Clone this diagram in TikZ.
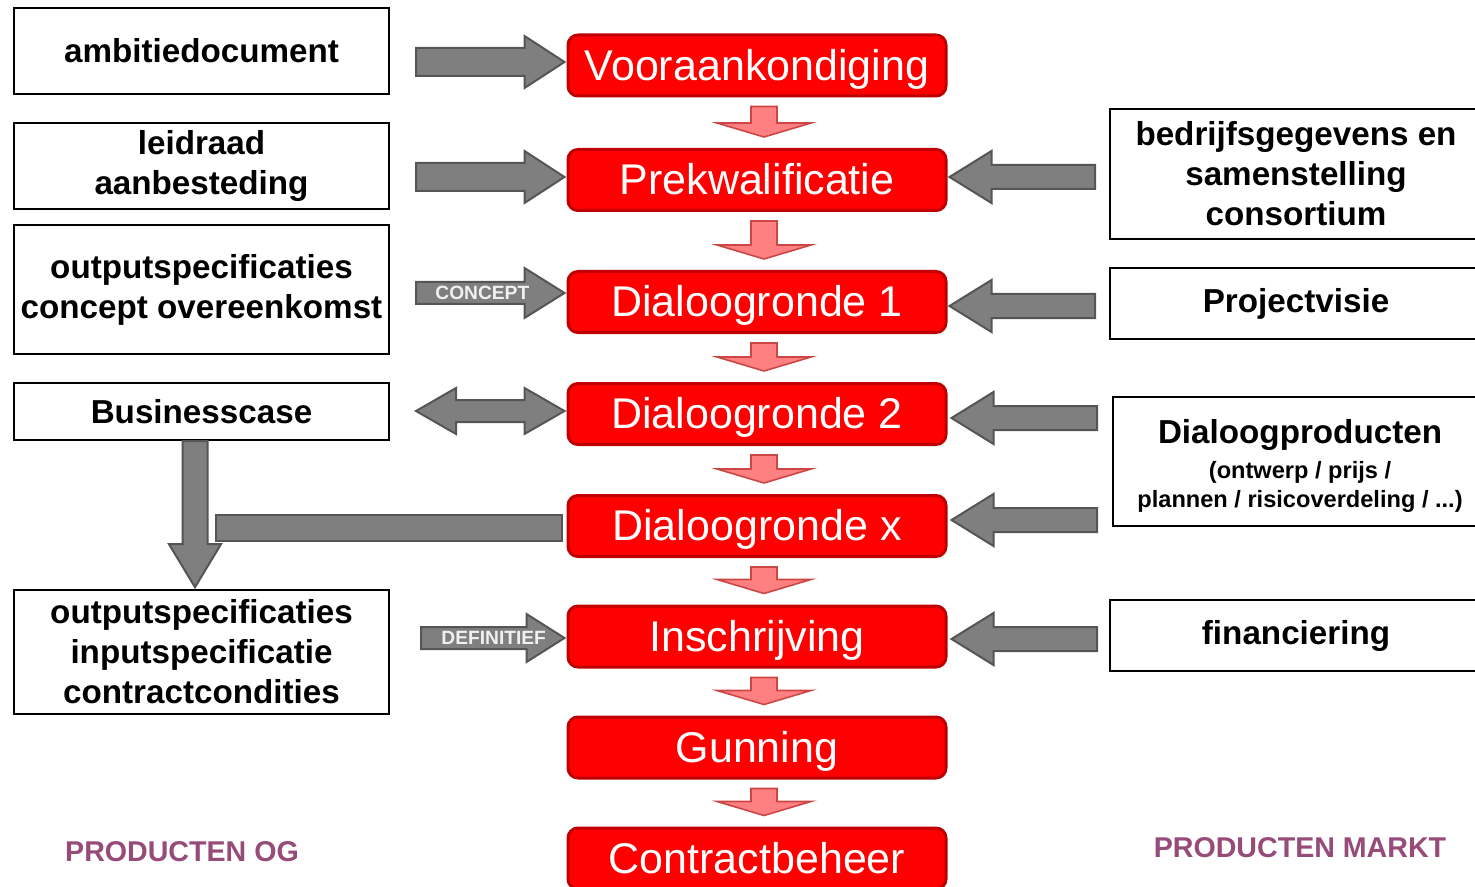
\documentclass[tikz,border=0pt]{standalone}
\usepackage{fontspec}
\setmainfont{Liberation Sans}
\usetikzlibrary{calc}
\definecolor{boxred}{RGB}{255,0,0}
\definecolor{boxredline}{RGB}{192,0,0}
\definecolor{arrowpink}{RGB}{255,128,128}
\definecolor{arrowpinkline}{RGB}{205,70,70}
\definecolor{grayfill}{RGB}{127,127,127}
\definecolor{grayline}{RGB}{85,85,85}
\definecolor{prodpurple}{RGB}{150,75,120}
% #1 style, #2 tail, #3 target, #4 shaft half, #5 head half, #6 head length
\newcommand{\rblock}[6]{%
  \path[#1] let \p1=(#2), \p2=(#3) in
    (\x1,{\y1+#4}) -- ({\x2-#6},{\y1+#4}) -- ({\x2-#6},{\y1+#5}) -- (\x2,\y1)
    -- ({\x2-#6},{\y1-#5}) -- ({\x2-#6},{\y1-#4}) -- (\x1,{\y1-#4}) -- cycle;}
\newcommand{\lblock}[6]{%
  \path[#1] let \p1=(#2), \p2=(#3) in
    (\x1,{\y1+#4}) -- ({\x2+#6},{\y1+#4}) -- ({\x2+#6},{\y1+#5}) -- (\x2,\y1)
    -- ({\x2+#6},{\y1-#5}) -- ({\x2+#6},{\y1-#4}) -- (\x1,{\y1-#4}) -- cycle;}
\newcommand{\lrblock}[6]{%
  \path[#1] let \p1=(#2), \p2=(#3) in
    (\x1,\y1) -- ({\x1+#6},{\y1+#5}) -- ({\x1+#6},{\y1+#4}) -- ({\x2-#6},{\y1+#4})
    -- ({\x2-#6},{\y1+#5}) -- (\x2,\y1) -- ({\x2-#6},{\y1-#5}) -- ({\x2-#6},{\y1-#4})
    -- ({\x1+#6},{\y1-#4}) -- ({\x1+#6},{\y1-#5}) -- cycle;}
\newcommand{\dblock}[6]{%
  \path[#1] let \p1=(#2), \p2=(#3) in
    ({\x1-#4},\y1) -- ({\x1-#4},{\y2+#6}) -- ({\x1-#5},{\y2+#6}) -- (\x1,\y2)
    -- ({\x1+#5},{\y2+#6}) -- ({\x1+#4},{\y2+#6}) -- ({\x1+#4},\y1) -- cycle;}
\begin{document}
\begin{tikzpicture}[x=0.5pt,y=-0.5pt,
  lbox/.style={draw=black, line width=0.8pt, fill=white, inner sep=0pt, align=center,
    font=\fontsize{16.6}{20}\selectfont\bfseries},
  redbox/.style={draw=boxredline, line width=1.5pt, fill=boxred, rounded corners=5pt,
    minimum width=189pt, minimum height=30.5pt, inner sep=0pt, text=white,
    text height=19.4pt, text depth=4.5pt,
    font=\fontsize{21.5}{24}\selectfont},
  garrow/.style={fill=grayfill, draw=grayline, line width=1pt, line join=miter},
  parrow/.style={fill=arrowpink, draw=arrowpinkline, line width=0.8pt},
  tag/.style={text=gray!12, font=\fontsize{9.6}{11}\selectfont\bfseries, inner sep=0pt},
  footer/.style={text=prodpurple, font=\fontsize{14.3}{16}\selectfont\bfseries}]
\useasboundingbox (0,0) rectangle (1475,887);

% left boxes
\node[lbox, minimum width=187.5pt, minimum height=43pt] (amb) at (201.5,51) {ambitiedocument};
\node[lbox, minimum width=187.5pt, minimum height=43pt] (lei) at (201.5,166) {leidraad\\aanbesteding};
\node[lbox, minimum width=187.5pt, minimum height=64.5pt] (out1) at (201.5,289.5) {outputspecificaties\\concept overeenkomst};
\node[lbox, minimum width=187.5pt, minimum height=28.5pt] (bus) at (201.5,411.5) {Businesscase};
\node[lbox, minimum width=187.5pt, minimum height=62pt] (out2) at (201.5,652) {outputspecificaties\\inputspecificatie\\contractcondities};

% right boxes
\node[lbox, minimum width=186pt, minimum height=65pt] (bed) at (1296,174) {bedrijfsgegevens en\\samenstelling\\consortium};
\node[lbox, minimum width=186pt, minimum height=35.5pt] (proj) at (1296,303.5) {Projectvisie};
\node[lbox, minimum width=187pt, minimum height=64.5pt] (dia) at (1300,461.5) {};
\node[align=center, inner sep=0pt, font=\fontsize{11.8}{14.5}\selectfont\bfseries] (diatext) at ($(dia.center)+(0,4)$)
  {{\fontsize{16.6}{20}\selectfont Dialoogproducten}\\[3pt](ontwerp / prijs /\\plannen / risicoverdeling / ...)};
\node[lbox, minimum width=186pt, minimum height=35.5pt] (fin) at (1296,635.5) {financiering};

% red process boxes
\node[redbox] (v1) at (757,65.5) {Vooraankondiging};
\node[redbox] (v2) at (757,180) {Prekwalificatie};
\node[redbox] (v3) at (757,302) {Dialoogronde 1};
\node[redbox] (v4) at (757,414) {Dialoogronde 2};
\node[redbox] (v5) at (757,526) {Dialoogronde x};
\node[redbox] (v6) at (757,636.5) {Inschrijving};
\node[redbox] (v7) at (757,747.5) {Gunning};
\node[redbox] (v8) at (757,858.5) {Contractbeheer};

% red down arrows
\foreach \a/\b in {v1/v2,v2/v3,v3/v4,v4/v5,v5/v6,v6/v7,v7/v8}{
  \dblock{parrow}{$(\a.south)+(7,9)$}{$(\b.north)+(7,-11)$}{6.5pt}{23.5pt}{7pt}
}

% left tails
\coordinate (t1) at (416,62);
\coordinate (t2) at (416,177);
\coordinate (t3) at (416,293);
\coordinate (t4) at (416,411);
\coordinate (t6) at (421,638);
\coordinate (bt) at (195,441);
\coordinate (bar) at (216,528);

\rblock{garrow}{t1}{$(v1.west)+(-2,0)$}{7pt}{13pt}{20pt}
\rblock{garrow}{t2}{$(v2.west)+(-2,0)$}{7pt}{13pt}{20pt}
\rblock{garrow}{t3}{$(v3.west)+(-2,0)$}{5.5pt}{12.5pt}{20pt}
\lrblock{garrow}{t4}{$(v4.west)+(-2,0)$}{5.5pt}{11.5pt}{20pt}
\rblock{garrow}{t6}{$(v6.west)+(-2,0)$}{5.5pt}{12pt}{19pt}
\dblock{garrow}{bt}{$(out2.north)+(0,-2)$}{6.25pt}{13pt}{21.5pt}
\path[garrow] let \p1=(bar), \p2=(v5.west) in (\x1,{\y1+6.5pt}) rectangle ({\x2-2.5pt},{\y1-6.5pt});

\node[tag, anchor=west] (ct) at ($(t3)+(19,0)$) {CONCEPT};
\node[tag, anchor=west] (dt) at ($(t6)+(20,0)$) {DEFINITIEF};

% right tails
\coordinate (r2) at (1095,177);
\coordinate (r3) at (1095,306);
\coordinate (r4) at (1097,418);
\coordinate (r5) at (1097,520);
\coordinate (r6) at (1097,639);

\lblock{garrow}{r2}{$(v2.east)+(2,0)$}{6pt}{13pt}{21pt}
\lblock{garrow}{r3}{$(v3.east)+(2,0)$}{6pt}{13pt}{21pt}
\lblock{garrow}{r4}{$(v4.east)+(4,0)$}{6pt}{13pt}{21pt}
\lblock{garrow}{r5}{$(v5.east)+(4,0)$}{6pt}{13pt}{21pt}
\lblock{garrow}{r6}{$(v6.east)+(4,0)$}{6pt}{13pt}{21pt}

% footers
\node[footer] (pog) at (182,852) {PRODUCTEN OG};
\node[footer] (pmk) at (1300,848) {PRODUCTEN MARKT};
\end{tikzpicture}
\end{document}
